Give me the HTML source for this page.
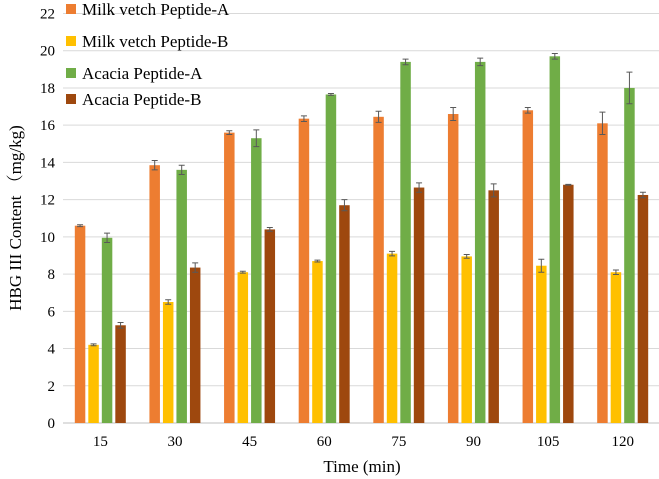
<!DOCTYPE html>
<html><head><meta charset="utf-8"><style>
body{margin:0;background:#fff;}
svg{display:block;}
svg text{font-family:"Liberation Serif","Noto Serif CJK SC",serif;}
</style></head><body>
<svg id="chart" width="659" height="479">
<g id="grid"></g><g id="bars"></g><g id="axes"></g><g id="legend"></g>
<text x="362" y="472" font-size="17" text-anchor="middle">Time (min)</text>
<text transform="translate(21,218) rotate(-90)" font-size="17" text-anchor="middle">HBG III Content （mg/kg)</text>
</svg>
<script>
const categories=["15","30","45","60","75","90","105","120"];
const seriesNames=["Milk vetch Peptide-A","Milk vetch Peptide-B","Acacia Peptide-A","Acacia Peptide-B"];
const milkA=[10.6,13.85,15.6,16.35,16.45,16.6,16.8,16.1];
const milkAErr=[0.05,0.25,0.1,0.15,0.3,0.35,0.15,0.6];
const milkB=[4.2,6.5,8.1,8.7,9.1,8.95,8.45,8.1];
const milkBErr=[0.05,0.12,0.05,0.05,0.12,0.1,0.35,0.12];
const acaciaA=[9.95,13.6,15.3,17.65,19.4,19.4,19.7,18.0];
const acaciaAErr=[0.25,0.25,0.45,0.05,0.15,0.2,0.15,0.85];
const acaciaB=[5.25,8.35,10.4,11.7,12.65,12.5,12.8,12.25];
const acaciaBErr=[0.15,0.25,0.1,0.3,0.25,0.35,0.02,0.15];
const yTicks=[0,2,4,6,8,10,12,14,16,18,20,22];
const colors=["#ED7D31","#FFC000","#70AD47","#9E480E"];
const series=[milkA,milkB,acaciaA,acaciaB],errs=[milkAErr,milkBErr,acaciaAErr,acaciaBErr];
const NS="http://www.w3.org/2000/svg";
const L=63,R=660,T=13.5,B=423,yMax=22;
const y=v=>B-(v/yMax)*(B-T);
const cw=(R-L)/categories.length;
const x=i=>L+cw*(i+0.5);
const FF='"Liberation Serif", serif';
function mk(tag,attrs,parent){const e=document.createElementNS(NS,tag);for(const k in attrs)e.setAttribute(k,attrs[k]);if(tag==="text")e.setAttribute("font-family",FF);document.getElementById(parent).appendChild(e);return e;}
yTicks.forEach(t=>{
 const g=mk("line",{x1:L,x2:R,y1:y(t),y2:y(t),stroke:t===0?"#bfbfbf":"#d9d9d9","stroke-width":1},"grid");
 
 
 const tx=mk("text",{x:L-8,y:y(t)+5,"font-size":15,"text-anchor":"end"},"axes");
 tx.textContent=t;
 
 
});
categories.forEach((c,i)=>{
 const tx=mk("text",{x:x(i),y:446,"font-size":15,"text-anchor":"middle"},"axes");
 tx.textContent=c;
 
 
});
const bw=10.5,pitch=13.5;
series.forEach((s,si)=>{
 s.forEach((v,i)=>{
  const cx=x(i)+(si-1.5)*pitch;
  const r=mk("rect",{x:cx-bw/2,y:y(v),width:bw,height:B-y(v),fill:colors[si]},"bars");
  
  
  const e=errs[si][i];
  const eb=mk("path",{d:`M${cx},${y(v+e)}V${y(v-e)}M${cx-3},${y(v+e)}H${cx+3}M${cx-3},${y(v-e)}H${cx+3}`,stroke:"#595959","stroke-width":1,fill:"none"},"bars");
  
  
 });
});
const ly=[9,41,73,99];
seriesNames.forEach((n,i)=>{
 const r=mk("rect",{x:66,y:ly[i]-5,width:10,height:10,fill:colors[i]},"legend");
 
 
 const t=mk("text",{x:82,y:ly[i]+6,"font-size":17},"legend");
 t.textContent=n;
 
 
});
</script>
</body></html>
